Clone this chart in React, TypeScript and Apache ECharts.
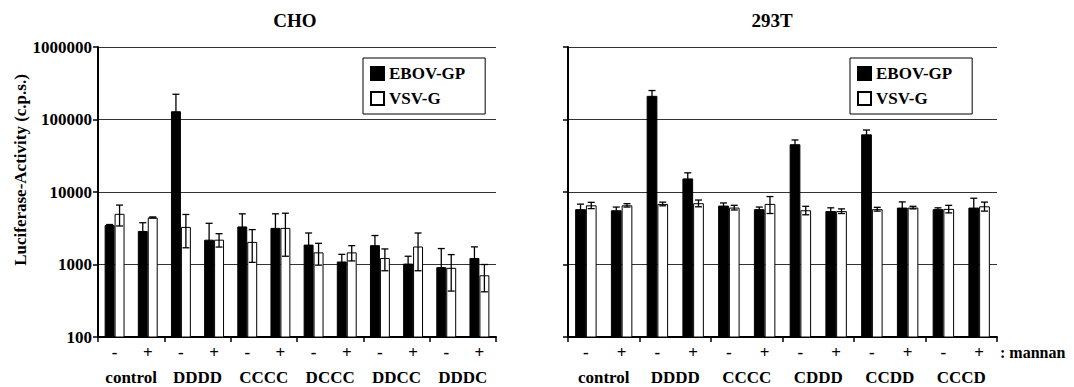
import React, { useEffect, useRef } from "react";
import * as echarts from "echarts";

const mannan = ["-", "+", "-", "+", "-", "+", "-", "+", "-", "+", "-", "+"];
const groupsCHO = ["control", "DDDD", "CCCC", "DCCC", "DDCC", "DDDC"];
const groups293T = ["control", "DDDD", "CCCC", "CDDD", "CCDD", "CCCD"];
const yTicks = [100, 1000, 10000, 100000, 1000000];

const choEbov = [3500, 2900, 130000, 2200, 3350, 3200, 1880, 1100, 1850, 1030, 920, 1230];
const choEbovErr = [60, 870, 93000, 1500, 1650, 1800, 840, 280, 660, 270, 740, 520];
const choVsv = [5000, 4450, 3300, 2200, 2050, 3200, 1470, 1470, 1230, 1770, 900, 710];
const choVsvErr = [1600, 80, 1600, 460, 980, 1900, 490, 350, 410, 950, 470, 290];

const t293Ebov = [5800, 5600, 212000, 15400, 6500, 5800, 45600, 5450, 62400, 6100, 5800, 6100];
const t293EbovErr = [1000, 600, 39000, 3000, 560, 400, 6600, 600, 9200, 1200, 250, 2100];
const t293Vsv = [6550, 6550, 6850, 7000, 6100, 6850, 5600, 5450, 5800, 6100, 5850, 6350];
const t293VsvErr = [650, 350, 400, 750, 450, 1800, 750, 400, 350, 250, 700, 900];

const FONT = "Liberation Serif";

function errSeries(values: number[], errs: number[], side: number, xIdx: number, yIdx: number) {
  return {
    type: "custom",
    xAxisIndex: xIdx,
    yAxisIndex: yIdx,
    z: 10,
    silent: true,
    data: values.map((v, i) => [i, v, errs[i]]),
    renderItem: (params: any, api: any) => {
      const i = api.value(0);
      const v = api.value(1);
      const e = api.value(2);
      const band = api.size([1, v])[0];
      const bw = (band * 0.6) / 2;
      const cx = api.coord([i, v])[0] + (side * bw) / 2;
      const yt = api.coord([i, v + e])[1];
      const yb = api.coord([i, Math.max(v - e, 101)])[1];
      const cap = 3.5;
      const st = { stroke: "#000", lineWidth: 1.3 };
      return {
        type: "group",
        children: [
          { type: "line", shape: { x1: cx, y1: yt, x2: cx, y2: yb }, style: st },
          { type: "line", shape: { x1: cx - cap, y1: yt, x2: cx + cap, y2: yt }, style: st },
          { type: "line", shape: { x1: cx - cap, y1: yb, x2: cx + cap, y2: yb }, style: st },
        ],
      };
    },
  };
}

export default function App() {
  const ref = useRef<HTMLDivElement>(null);
  useEffect(() => {
    if (!ref.current) return;
    const chart = echarts.init(ref.current, null, { renderer: "svg" });
    const labelStyle = { color: "#000", fontWeight: "bold", fontFamily: FONT, fontSize: 17 };
    const mkX = (grid: number, data: string[], group: boolean) => ({
      type: "category",
      gridIndex: grid,
      position: "bottom",
      data,
      axisLine: { show: group, lineStyle: { color: "#000", width: 2 } },
      axisTick: { show: group, length: 5, lineStyle: { color: "#000", width: 1.5 } },
      axisLabel: { ...labelStyle, margin: group ? 32 : 7, interval: 0 },
      splitLine: { show: false },
    });
    const mkY = (grid: number, showLabel: boolean) => ({
      type: "log",
      logBase: 10,
      gridIndex: grid,
      min: yTicks[0],
      max: yTicks[yTicks.length - 1],
      axisLine: { show: true, lineStyle: { color: "#000", width: 2 } },
      axisTick: { show: true, length: 5, lineStyle: { color: "#000", width: 1.5 } },
      axisLabel: {
        show: showLabel,
        ...labelStyle,
        fontSize: 17,
        margin: 6,
        formatter: (v: number) => String(Math.round(v)),
      },
      splitLine: { show: true, lineStyle: { color: "#333", width: 1.2 } },
    });
    const legendCfg = (left: number) => ({
      left,
      top: 58,
      orient: "vertical",
      data: [
        { name: "EBOV-GP", icon: "rect" },
        { name: "VSV-G", icon: "rect" },
      ],
      borderColor: "#000",
      borderWidth: 1,
      padding: [7, 20, 7, 7],
      itemGap: 8,
      itemWidth: 13,
      itemHeight: 13,
      itemTextGap: 11,
      selectedMode: false,
      textStyle: { color: "#000", fontWeight: "bold", fontFamily: FONT, fontSize: 17 },
    });
    const blackStyle = { color: "#000", borderColor: "#000", borderWidth: 1 };
    const whiteStyle = { color: "#fff", borderColor: "#000", borderWidth: 1 };
    const bar = (name: string, data: number[], xIdx: number, yIdx: number, style: any) => ({
      type: "bar",
      name,
      xAxisIndex: xIdx,
      yAxisIndex: yIdx,
      data,
      barGap: "0%",
      barCategoryGap: "40%",
      clip: true,
      itemStyle: style,
    });
    chart.setOption({
      animation: false,
      backgroundColor: "#fff",
      grid: [
        { left: 98, right: 578, top: 47, bottom: 50 },
        { left: 568, right: 77, top: 47, bottom: 50 },
      ],
      xAxis: [mkX(0, mannan, false), mkX(0, groupsCHO, true), mkX(1, mannan, false), mkX(1, groups293T, true)],
      yAxis: [mkY(0, true), mkY(1, false)],
      legend: [legendCfg(363), legendCfg(850)],
      graphic: [
        {
          type: "text",
          x: 295,
          y: 20,
          style: { text: "CHO", font: `bold 19px ${FONT}`, fill: "#000", align: "center", verticalAlign: "middle" },
        },
        {
          type: "text",
          x: 772,
          y: 20,
          style: { text: "293T", font: `bold 19px ${FONT}`, fill: "#000", align: "center", verticalAlign: "middle" },
        },
        {
          type: "text",
          x: 20,
          y: 170,
          rotation: Math.PI / 2,
          style: {
            text: "Luciferase-Activity (c.p.s.)",
            font: `bold 17px ${FONT}`,
            fill: "#000",
            align: "center",
            verticalAlign: "middle",
          },
        },
        {
          type: "text",
          x: 1000,
          y: 352,
          style: { text: ": mannan", font: `bold 16px ${FONT}`, fill: "#000", align: "left", verticalAlign: "middle" },
        },
      ],
      series: [
        bar("EBOV-GP", choEbov, 0, 0, blackStyle),
        bar("VSV-G", choVsv, 0, 0, whiteStyle),
        bar("EBOV-GP", t293Ebov, 2, 1, blackStyle),
        bar("VSV-G", t293Vsv, 2, 1, whiteStyle),
        errSeries(choEbov, choEbovErr, -1, 0, 0),
        errSeries(choVsv, choVsvErr, 1, 0, 0),
        errSeries(t293Ebov, t293EbovErr, -1, 2, 1),
        errSeries(t293Vsv, t293VsvErr, 1, 2, 1),
      ],
    });
    return () => chart.dispose();
  }, []);
  return <div ref={ref} style={{ position: "absolute", left: 0, top: 0, width: 1074, height: 387 }} />;
}
